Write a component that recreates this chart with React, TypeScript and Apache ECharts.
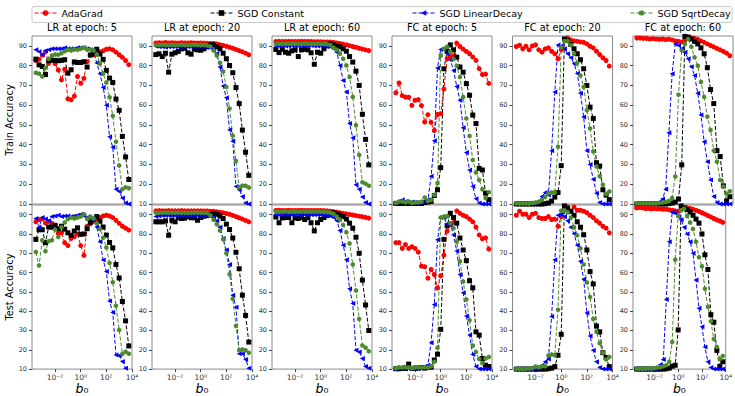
import React, { useEffect, useRef } from 'react';
import * as echarts from 'echarts';

// ---------- data ----------
const B0_EXPONENT = [-3.5, -3.25, -3, -2.75, -2.5, -2.25, -2, -1.75, -1.5, -1.25, -1, -0.75, -0.5, -0.25, 0, 0.25, 0.5, 0.75, 1, 1.25, 1.5, 1.75, 2, 2.25, 2.5, 2.75, 3, 3.25, 3.5, 3.75];

const SERIES_NAMES = ['AdaGrad', 'SGD Constant', 'SGD LinearDecay', 'SGD SqrtDecay'];
const PANEL_TITLES = ['LR at epoch: 5', 'LR at epoch: 20', 'LR at epoch: 60', 'FC at epoch: 5', 'FC at epoch: 20', 'FC at epoch: 60'];
const ROW_NAMES = ['Train Accuracy', 'Test Accuracy'];
const X_TICKS = [1e-2, 1, 1e2, 1e4];
const Y_TICKS = [10, 20, 30, 40, 50, 60, 70, 80, 90];

// Train, LR at epoch 5
const lr5TrainAdaGrad = [82.6, 83.2, 85.3, 87, 81.2, 83, 81, 77.8, 72.8, 78.2, 63.2, 62.7, 64.6, 74.5, 71.1, 73.6, 82, 85.3, 85.5, 86, 87, 87.5, 88.3, 88.5, 88, 86.8, 85.5, 84.2, 82.6, 80.5];
const lr5TrainConstant = [83.3, 80.4, 79.6, 75.5, 82.5, 82.7, 82.7, 82.5, 82.7, 83, 76.2, 77.9, 81.9, 81.6, 81.6, 82, 79.3, 85.4, 86, 88.3, 85.9, 83.2, 77.6, 73.7, 71.5, 63.1, 57.4, 44.2, 33.8, 22.4];
const lr5TrainLinear = [88, 87, 85.5, 87.5, 88, 88.5, 88.5, 88.5, 88.5, 89, 88.5, 88.5, 88.5, 89, 89, 89, 88.5, 88, 87.5, 81.3, 75.9, 69, 60, 44, 38.7, 17.5, 16.3, 13, 10.5, 10];
const lr5TrainSqrt = [76.4, 75.9, 74.5, 78.8, 83.5, 85.1, 85.6, 85.5, 86.3, 87.3, 88, 87.7, 88.2, 88, 88.5, 89, 88, 88.2, 87.7, 85.6, 81, 76, 71.5, 64, 54.5, 41.5, 29.5, 17.5, 18.5, 18];

// Train, LR at epoch 20
const lr20TrainAdaGrad = [91.5, 91.6, 91.5, 91.7, 91.5, 91.6, 91.5, 91.4, 91.6, 91.5, 91.5, 91.6, 91.5, 91.4, 91.5, 91.4, 91.3, 91.2, 91.2, 91, 90.6, 90.2, 89.8, 89.3, 88.8, 88.2, 87.6, 87, 86.3, 85.5];
const lr20TrainConstant = [85.6, 86, 84.6, 86.3, 76.7, 85.8, 86.5, 87.2, 88.5, 88.8, 86.5, 85.8, 88.3, 88, 87.8, 88.5, 89.5, 90.5, 90.5, 89.5, 88.5, 86.3, 83.5, 80.1, 76.4, 68.9, 60.8, 47.4, 36.2, 24.5];
const lr20TrainLinear = [89.8, 89.5, 89.5, 89.3, 89.5, 89.5, 89.5, 89.5, 89.6, 89.5, 89.5, 89.6, 89.5, 89.5, 89.6, 89.5, 89.3, 89, 88.5, 86, 79.3, 69.7, 63.7, 47.4, 41.8, 18.8, 17.2, 13.8, 10.5, 10];
const lr20TrainSqrt = [90.5, 90.5, 90.6, 90.5, 90.5, 90.6, 90.5, 90.5, 90.6, 90.5, 90.5, 90.5, 90.6, 90.5, 90.5, 90.4, 90.2, 89.7, 87.7, 85.1, 81.5, 77, 69.2, 58.3, 44.5, 31.8, 18.5, 19.2, 19.2, 18.4];

// Train, LR at epoch 60
const lr60TrainAdaGrad = [92.2, 92.3, 92.2, 92.2, 92.3, 92.2, 92.2, 92.2, 92.3, 92.2, 92.2, 92.2, 92.1, 92.1, 92.1, 92, 92, 92, 91.8, 91.5, 91.2, 90.9, 90.5, 90.1, 89.7, 89.3, 88.8, 88.4, 88, 87.6];
const lr60TrainConstant = [88.2, 86.6, 88.3, 86.8, 86.3, 87.5, 88, 84.6, 88, 88.3, 88, 86.5, 80.7, 86.8, 86.3, 88.5, 90, 91, 90.5, 90, 89.5, 88.5, 87.3, 84.6, 81.8, 77.2, 70, 55.4, 42.7, 29.8];
const lr60TrainLinear = [90, 90, 90.2, 90, 90, 90.2, 90, 90, 90.1, 90, 90, 90.2, 90, 90, 90, 89.8, 89.7, 89.5, 88.5, 86.8, 80.1, 72.5, 66.7, 50.7, 43.5, 19.7, 17.5, 13.5, 10.8, 10];
const lr60TrainSqrt = [91, 91, 91.1, 91, 91, 91.1, 91, 91, 91, 91.1, 91, 91, 91, 91, 91, 91, 90.8, 90.5, 89, 88, 86, 83.5, 80.1, 74.2, 64.2, 49.9, 34.8, 21, 20.2, 19.2];

// Train, FC at epoch 5
const fc5TrainAdaGrad = [66.3, 71.2, 64.8, 64.1, 64, 59.9, 62.5, 62.8, 59.8, 51.5, 55.2, 51.3, 47.2, 55.3, 55.7, 68.2, 83.5, 84.5, 85, 91.4, 89.7, 88.4, 87.2, 86, 84.4, 82.7, 78.5, 75.5, 75.7, 71];
const fc5TrainConstant = [10.3, 10.3, 10.3, 10.3, 10.3, 10.3, 10.3, 10.3, 10.3, 10.8, 11, 11.3, 14.3, 17.2, 28.4, 78.4, 87.3, 90.5, 88, 84.3, 79.3, 76.7, 70.9, 65, 55, 50.7, 28, 27.2, 15.5, 12.2];
const fc5TrainLinear = [10.8, 11.3, 12.1, 11.3, 10.8, 11, 10.8, 10.5, 10.8, 11.3, 12.1, 24, 42, 78.8, 88.2, 88.2, 86, 83, 77.6, 69.5, 62.5, 48.6, 36.1, 27.2, 18.9, 12.6, 10.5, 10, 10, 10];
const fc5TrainSqrt = [10.5, 11.3, 11.3, 10.8, 11.3, 10.5, 10.8, 10.8, 11.2, 13.3, 11.5, 12, 14.5, 20.5, 85, 88.5, 89.5, 87, 83.5, 80, 74.2, 64.2, 53.3, 44.4, 32.3, 26, 22.2, 17.5, 13, 16];

// Train, FC at epoch 20
const fc20TrainAdaGrad = [89.7, 90.3, 88.5, 89.8, 88, 90, 90.5, 88, 86.8, 88.5, 89, 87.3, 86, 83.5, 88, 93.2, 94, 93, 92.5, 92.3, 92, 91.8, 91, 89.8, 89, 87.3, 85.6, 84, 82.6, 79.8];
const fc20TrainConstant = [10, 10, 10, 10, 10, 10, 10, 10, 10, 10.2, 10.5, 11.5, 13.5, 15.8, 29.4, 93.5, 92.7, 90.7, 88.5, 86, 83, 78.4, 70, 59, 53.3, 30.9, 29.2, 17.2, 14.5, 12.2];
const fc20TrainLinear = [10.2, 10.2, 10.2, 10.2, 10.3, 10.3, 10.5, 11, 13.8, 15.8, 14.5, 37, 66.7, 90.5, 90, 88.5, 86, 84, 81, 76, 66, 54, 37, 30, 22.5, 15.5, 10.8, 10, 10, 10];
const fc20TrainSqrt = [10.2, 10.2, 10.2, 10.2, 10.3, 10.5, 10.8, 11.2, 12, 13.5, 15.5, 15.8, 16, 39, 89.3, 92.5, 92.5, 90.5, 86, 81.3, 75, 69.2, 57.4, 48.2, 36.5, 29, 24, 19.7, 15, 16.3];

// Train, FC at epoch 60
const fc60TrainAdaGrad = [94, 94, 93.8, 93.8, 93.5, 93.7, 93.5, 93.3, 93.5, 93.2, 93.4, 93, 92.5, 92.3, 92, 93, 93.8, 94, 93.8, 93.3, 92.5, 91.8, 91, 90.2, 89.5, 88.7, 88, 87.2, 86.3, 85];
const fc60TrainConstant = [10, 10, 10, 10, 10, 10, 10, 10, 10, 10, 10.2, 10.5, 11, 12.5, 29.8, 94.8, 94.5, 93.5, 92.3, 91, 89, 86, 79, 67.9, 60.8, 37, 34, 19.2, 11.5, 13.7];
const fc60TrainLinear = [10, 10, 10, 10, 10, 10, 10.2, 11, 12.5, 17.5, 46, 75.9, 91, 90.2, 88.5, 86.8, 83.5, 79.5, 75, 66, 55, 41.5, 31.4, 22.2, 13.8, 10.8, 10, 10, 10, 10];
const fc60TrainSqrt = [10.2, 10.2, 10.2, 10.2, 10.2, 10.3, 10.3, 10.5, 10.8, 11, 11.5, 13, 23.9, 65.3, 87.7, 91, 93.5, 89.5, 84.3, 80, 71.7, 64.2, 54.1, 47.4, 37, 31.4, 22.2, 18.9, 15.2, 16.5];

// Test, LR at epoch 5
const lr5TestAdaGrad = [86.3, 87.5, 87.8, 85.7, 86.5, 85.5, 84.5, 80.3, 80.6, 75.5, 74, 77.7, 78.6, 80, 74, 68.9, 84, 85.3, 86.5, 87.5, 88.5, 89.3, 89.7, 89.3, 88.5, 87, 85.5, 84, 83, 82];
const lr5TestConstant = [77.2, 82.2, 82.2, 75.5, 83.6, 83.5, 84.5, 82.7, 84, 82.5, 80.6, 79.3, 81.5, 83.2, 79.8, 80, 82.7, 86, 87.5, 89, 86.6, 83.6, 79.4, 75.6, 72.8, 64.2, 57.2, 45, 35, 22];
const lr5TestLinear = [88, 83.5, 88.5, 87.7, 86.8, 89, 89.3, 89.7, 89, 89.3, 89.3, 89, 89.3, 89.7, 90.2, 89.3, 88.5, 88, 87.3, 83.6, 76, 66.5, 60.5, 45.3, 39.3, 17.3, 17, 14, 10.5, 9];
const lr5TestSqrt = [70.6, 63.6, 76.7, 71, 76.2, 76.7, 82.3, 78.4, 83.5, 86, 87.7, 88.5, 88, 88.5, 89, 90.2, 87.7, 89, 88, 85.6, 82.6, 78, 73, 65, 55, 42.8, 30.3, 17.8, 19, 18];

// Test, LR at epoch 20
const lr20TestAdaGrad = [92, 92.1, 92, 92, 92.1, 92, 92, 92, 92.1, 92, 92, 92, 92, 92, 92, 91.9, 91.9, 91.8, 91.8, 91.5, 91.2, 91, 90.6, 90.2, 89.6, 89, 88.4, 87.7, 87, 86.3];
const lr20TestConstant = [86.3, 86.3, 86.3, 86.8, 79.3, 87.1, 86.3, 88.4, 88, 88.2, 89, 88.4, 88.4, 87.1, 88.5, 89.2, 89.5, 90, 90.5, 90.2, 89.3, 88, 85.1, 82.3, 77.9, 70.5, 62, 48.3, 37.8, 24];
const lr20TestLinear = [89, 89.3, 89.5, 89.5, 89.5, 89.4, 89.5, 89.5, 89.5, 89.5, 89.6, 89.5, 89.5, 89.5, 89.6, 89.5, 89.5, 89.3, 88.5, 86.8, 83.5, 77.6, 71.7, 64.2, 48.2, 42, 18, 18, 15, 10.5];
const lr20TestSqrt = [91, 91, 91, 91.1, 91, 91, 91, 91.1, 91, 91, 91, 91, 91.1, 91, 91, 91, 90.8, 89.5, 87.3, 85, 81.8, 77.2, 70, 59.1, 46.5, 32.3, 19.7, 20.2, 19.7, 18.5];

// Test, LR at epoch 60
const lr60TestAdaGrad = [92.2, 92.3, 92.2, 92.2, 92.3, 92.2, 92.2, 92.2, 92.3, 92.2, 92.2, 92.2, 92.2, 92.2, 92.2, 92.1, 92, 91.8, 91.6, 91.3, 91, 90.7, 90.4, 90.1, 89.8, 89.5, 89.2, 88.9, 88.6, 88.2];
const lr60TestConstant = [88.8, 85.8, 88.3, 88.5, 88.5, 85.8, 88.3, 88, 88.5, 87.5, 88.5, 85.8, 81.6, 85.8, 87.5, 88.5, 89.5, 90.5, 91, 90.5, 89.7, 89, 87.7, 85.6, 83, 78.3, 70, 56.1, 43.2, 30];
const lr60TestLinear = [90, 90, 90, 90.2, 90, 90, 90, 90.1, 90, 90, 90.2, 90, 90, 90, 90, 89.8, 89.6, 89.3, 88.5, 86.8, 81.8, 74.2, 66.7, 51.6, 44, 19.7, 18.9, 15.5, 11.3, 10.5];
const lr60TestSqrt = [91.5, 91.5, 91.5, 91.6, 91.5, 91.5, 91.5, 91.5, 91.6, 91.5, 91.5, 91.5, 91.5, 91.5, 91.5, 91.5, 91.3, 91, 90.5, 89, 87.3, 84.6, 80.9, 75, 64.2, 50.7, 36, 22.2, 21, 19.2];

// Test, FC at epoch 5
const fc5TestAdaGrad = [75.5, 75.5, 72.5, 74.5, 72.5, 73.4, 72.5, 70.6, 63.3, 63, 57.1, 61.6, 59, 52, 58.3, 69, 81.5, 85, 86, 92, 90.7, 89.7, 89, 87.7, 86.3, 83.5, 79.5, 77.5, 78, 72.2];
const fc5TestConstant = [10.2, 10.2, 10.3, 10.3, 12.6, 10.3, 10.5, 10.5, 10.8, 10.5, 10.8, 11, 14.7, 17.7, 30.6, 77.2, 84.3, 90.7, 88.5, 85.6, 77.9, 71.7, 66.2, 55.8, 52.1, 29.3, 27.6, 15.5, 12, 11.3];
const fc5TestLinear = [10.1, 10.5, 11, 10.2, 10.3, 10.5, 10.3, 10.5, 11, 11.3, 12, 23.7, 43.5, 77, 88.5, 88.5, 85, 84.6, 79.5, 71.2, 59, 49.5, 37.5, 27.6, 17.5, 11.3, 10, 10, 10, 10];
const fc5TestSqrt = [10.5, 11, 10.8, 11, 10.8, 10.5, 11, 11, 10.8, 11, 10.8, 11.5, 13.8, 21, 88.5, 89, 89.3, 85.6, 83, 75.9, 65.8, 55.4, 46, 35.3, 22.2, 18.9, 15.2, 13, 15.5, 16.3];

// Test, FC at epoch 20
const fc20TestAdaGrad = [89.7, 91.8, 90.2, 90.2, 88.5, 90.2, 90.7, 88.5, 88, 88, 89, 87.5, 87.7, 84, 89, 93.5, 94, 91.8, 94, 92.3, 92.3, 91.8, 91, 89.7, 88.5, 86.8, 85.6, 84, 83, 80.6];
const fc20TestConstant = [10, 10, 10, 10, 10, 10, 10, 10, 10, 10, 10.2, 10.5, 11.3, 17.2, 28, 94.5, 93.3, 91.8, 89.7, 86.3, 83.5, 79.6, 71.7, 60.5, 54.1, 32.3, 29.3, 18.5, 16, 11.3];
const fc20TestLinear = [10, 10, 10, 10, 10.2, 10.2, 10.3, 10.5, 12, 13.8, 15.2, 37.3, 66.7, 89.7, 90.2, 89, 86.8, 83.5, 80.1, 74.2, 65.8, 56.6, 39, 27.2, 19.7, 13.8, 10.8, 10, 10, 10];
const fc20TestSqrt = [10, 10, 10, 10.2, 10.3, 10.5, 11.3, 11, 11.5, 11.5, 17, 17.5, 17.2, 40.7, 92, 92.3, 91.3, 88.5, 83.5, 79.3, 72.5, 64.2, 54.9, 47.4, 36, 29.3, 23.4, 18.5, 15, 16.3];

// Test, FC at epoch 60
const fc60TestAdaGrad = [93.5, 93.7, 93.5, 93.2, 93.3, 93, 93.2, 93, 93, 92.8, 92.8, 92.5, 92.3, 92, 91.8, 92.8, 93.5, 93.5, 93.2, 92.8, 92.3, 91.7, 91, 90.3, 89.5, 88.8, 88, 87.3, 86.7, 86];
const fc60TestConstant = [10, 10, 10, 10, 10, 10, 10, 10, 10, 10, 10.2, 10.5, 11.5, 12, 30.3, 94.5, 93.5, 92.7, 91.3, 89.7, 87.7, 85.6, 80, 69.2, 61.6, 38.2, 34.3, 19.7, 11.3, 13.8];
const fc60TestLinear = [10, 10, 10, 10, 10, 10, 10.2, 10.5, 12.2, 15, 46, 75.9, 91.3, 90.7, 89, 87.3, 83.5, 80, 75.9, 70, 56.1, 41.5, 31.9, 21.4, 13.8, 10.8, 10, 10, 10, 10];
const fc60TestSqrt = [10.2, 10.2, 10.2, 10.2, 10.3, 10.3, 10.5, 10.8, 11, 11.5, 12, 13.8, 24, 66.7, 89.3, 92.3, 93, 89.3, 86, 82.6, 75.9, 68, 63.3, 51.6, 42.3, 34.8, 25.6, 21.4, 15.2, 16.8];

const PANEL_SERIES = [
  [lr5TrainAdaGrad, lr5TrainConstant, lr5TrainLinear, lr5TrainSqrt],
  [lr20TrainAdaGrad, lr20TrainConstant, lr20TrainLinear, lr20TrainSqrt],
  [lr60TrainAdaGrad, lr60TrainConstant, lr60TrainLinear, lr60TrainSqrt],
  [fc5TrainAdaGrad, fc5TrainConstant, fc5TrainLinear, fc5TrainSqrt],
  [fc20TrainAdaGrad, fc20TrainConstant, fc20TrainLinear, fc20TrainSqrt],
  [fc60TrainAdaGrad, fc60TrainConstant, fc60TrainLinear, fc60TrainSqrt],
  [lr5TestAdaGrad, lr5TestConstant, lr5TestLinear, lr5TestSqrt],
  [lr20TestAdaGrad, lr20TestConstant, lr20TestLinear, lr20TestSqrt],
  [lr60TestAdaGrad, lr60TestConstant, lr60TestLinear, lr60TestSqrt],
  [fc5TestAdaGrad, fc5TestConstant, fc5TestLinear, fc5TestSqrt],
  [fc20TestAdaGrad, fc20TestConstant, fc20TestLinear, fc20TestSqrt],
  [fc60TestAdaGrad, fc60TestConstant, fc60TestLinear, fc60TestSqrt],
];

// ---------- layout / style ----------
const FONT = 'DejaVu Sans';
const PANEL_LEFT = [32, 152, 272, 392, 512.5, 633];
const ROW_TOP = [36, 205];
const PANEL_W = 100;
const PANEL_H = 168;
const LEGEND_LEFT = [34, 210, 412, 630];
const STYLES = [
  { color: '#ff0000', symbol: 'circle', rotate: 0 },
  { color: '#000000', symbol: 'rect', rotate: 0 },
  { color: '#0000ff', symbol: 'triangle', rotate: 90 },
  { color: '#4b8b2b', symbol: 'path://M0,-10L8.66,-5L8.66,5L0,10L-8.66,5L-8.66,-5Z', rotate: 0 },
];

const SUP: Record<string, string> = { '-': '⁻', '0': '⁰', '1': '¹', '2': '²', '3': '³', '4': '⁴' };
const fmtPow = (v: number) => {
  const e = Math.round(Math.log10(v));
  return '10' + String(e).split('').map((c) => SUP[c] || c).join('');
};

function buildOption() {
  const grids: any[] = [];
  const xAxes: any[] = [];
  const yAxes: any[] = [];
  const series: any[] = [];
  const titles: any[] = [];
  for (let p = 0; p < 12; p++) {
    const row = Math.floor(p / 6);
    const col = p % 6;
    grids.push({
      left: PANEL_LEFT[col], top: ROW_TOP[row], width: PANEL_W, height: PANEL_H,
      show: true, borderColor: '#8a8a8a', borderWidth: 1, backgroundColor: 'transparent',
    });
    xAxes.push({
      type: 'log', logBase: 10, gridIndex: p, min: Math.pow(10, -3.8), max: 1e4,
      axisLine: { show: false }, splitLine: { show: false }, minorTick: { show: false },
      axisTick: { show: row === 1, customValues: X_TICKS, length: 3, lineStyle: { color: '#444' } },
      axisLabel: {
        show: row === 1, customValues: X_TICKS, formatter: fmtPow, fontSize: 7.5,
        fontFamily: FONT, color: '#333', margin: 4,
      },
      name: row === 1 ? '{i|b}{n|₀}' : '', nameLocation: 'middle', nameGap: 12,
      nameTextStyle: {
        rich: {
          i: { fontStyle: 'italic', fontSize: 12.5, fontFamily: FONT, color: '#000' },
          n: { fontSize: 12.5, fontFamily: FONT, color: '#000' },
        },
      },
    });
    yAxes.push({
      type: 'value', gridIndex: p, min: 10, max: 95,
      axisLine: { show: false }, splitLine: { show: false },
      axisTick: { show: true, customValues: Y_TICKS, length: 3, lineStyle: { color: '#444' } },
      axisLabel: { customValues: Y_TICKS, fontSize: 6.5, fontFamily: FONT, color: '#333', margin: 5 },
      name: col === 0 ? ROW_NAMES[row] : '', nameLocation: 'middle', nameGap: 15,
      nameTextStyle: { fontSize: 9.8, fontFamily: FONT, color: '#000' },
    });
    if (row === 0) {
      titles.push({
        text: PANEL_TITLES[col], left: PANEL_LEFT[col] + PANEL_W / 2, top: 22, textAlign: 'center', padding: 0,
        textStyle: { fontSize: 9.7, fontWeight: 'normal', fontFamily: FONT, color: '#000' },
      });
    }
    PANEL_SERIES[p].forEach((vals, s) => {
      const st = STYLES[s];
      series.push({
        type: 'line', name: SERIES_NAMES[s], xAxisIndex: p, yAxisIndex: p,
        data: B0_EXPONENT.map((e, i) => [Math.pow(10, e), vals[i]]),
        symbol: st.symbol, symbolSize: 5, symbolRotate: st.rotate, symbolKeepAspect: true,
        showSymbol: true, showAllSymbol: true, clip: true,
        lineStyle: { color: st.color, width: 1, type: [4, 2] },
        itemStyle: { color: st.color },
        emphasis: { disabled: true }, silent: true,
      });
    });
  }
  const legends = SERIES_NAMES.map((n, i) => ({
    data: [n], left: LEGEND_LEFT[i], top: 8, padding: 0, itemGap: 0,
    itemWidth: 22, itemHeight: 7, selectedMode: false,
    lineStyle: { width: 1 },
    textStyle: { fontSize: 9.5, fontFamily: FONT, color: '#000' },
  }));
  return {
    animation: false,
    textStyle: { fontFamily: FONT },
    title: titles,
    legend: legends,
    grid: grids,
    xAxis: xAxes,
    yAxis: yAxes,
    series,
    graphic: [
      {
        type: 'rect', z: -1, silent: true,
        shape: { x: 32, y: 6.5, width: 700, height: 16, r: 2 },
        style: { fill: '#fff', stroke: '#cccccc', lineWidth: 1 },
      },
    ],
  };
}

export default function App() {
  const ref = useRef<HTMLDivElement>(null);
  useEffect(() => {
    if (!ref.current) return;
    const chart = echarts.init(ref.current, null, { renderer: 'svg' });
    chart.setOption(buildOption() as any);
    return () => chart.dispose();
  }, []);
  return (
    <div
      ref={ref}
      style={{ position: 'fixed', left: 0, top: 0, width: 735, height: 396, background: '#fff' }}
    />
  );
}
